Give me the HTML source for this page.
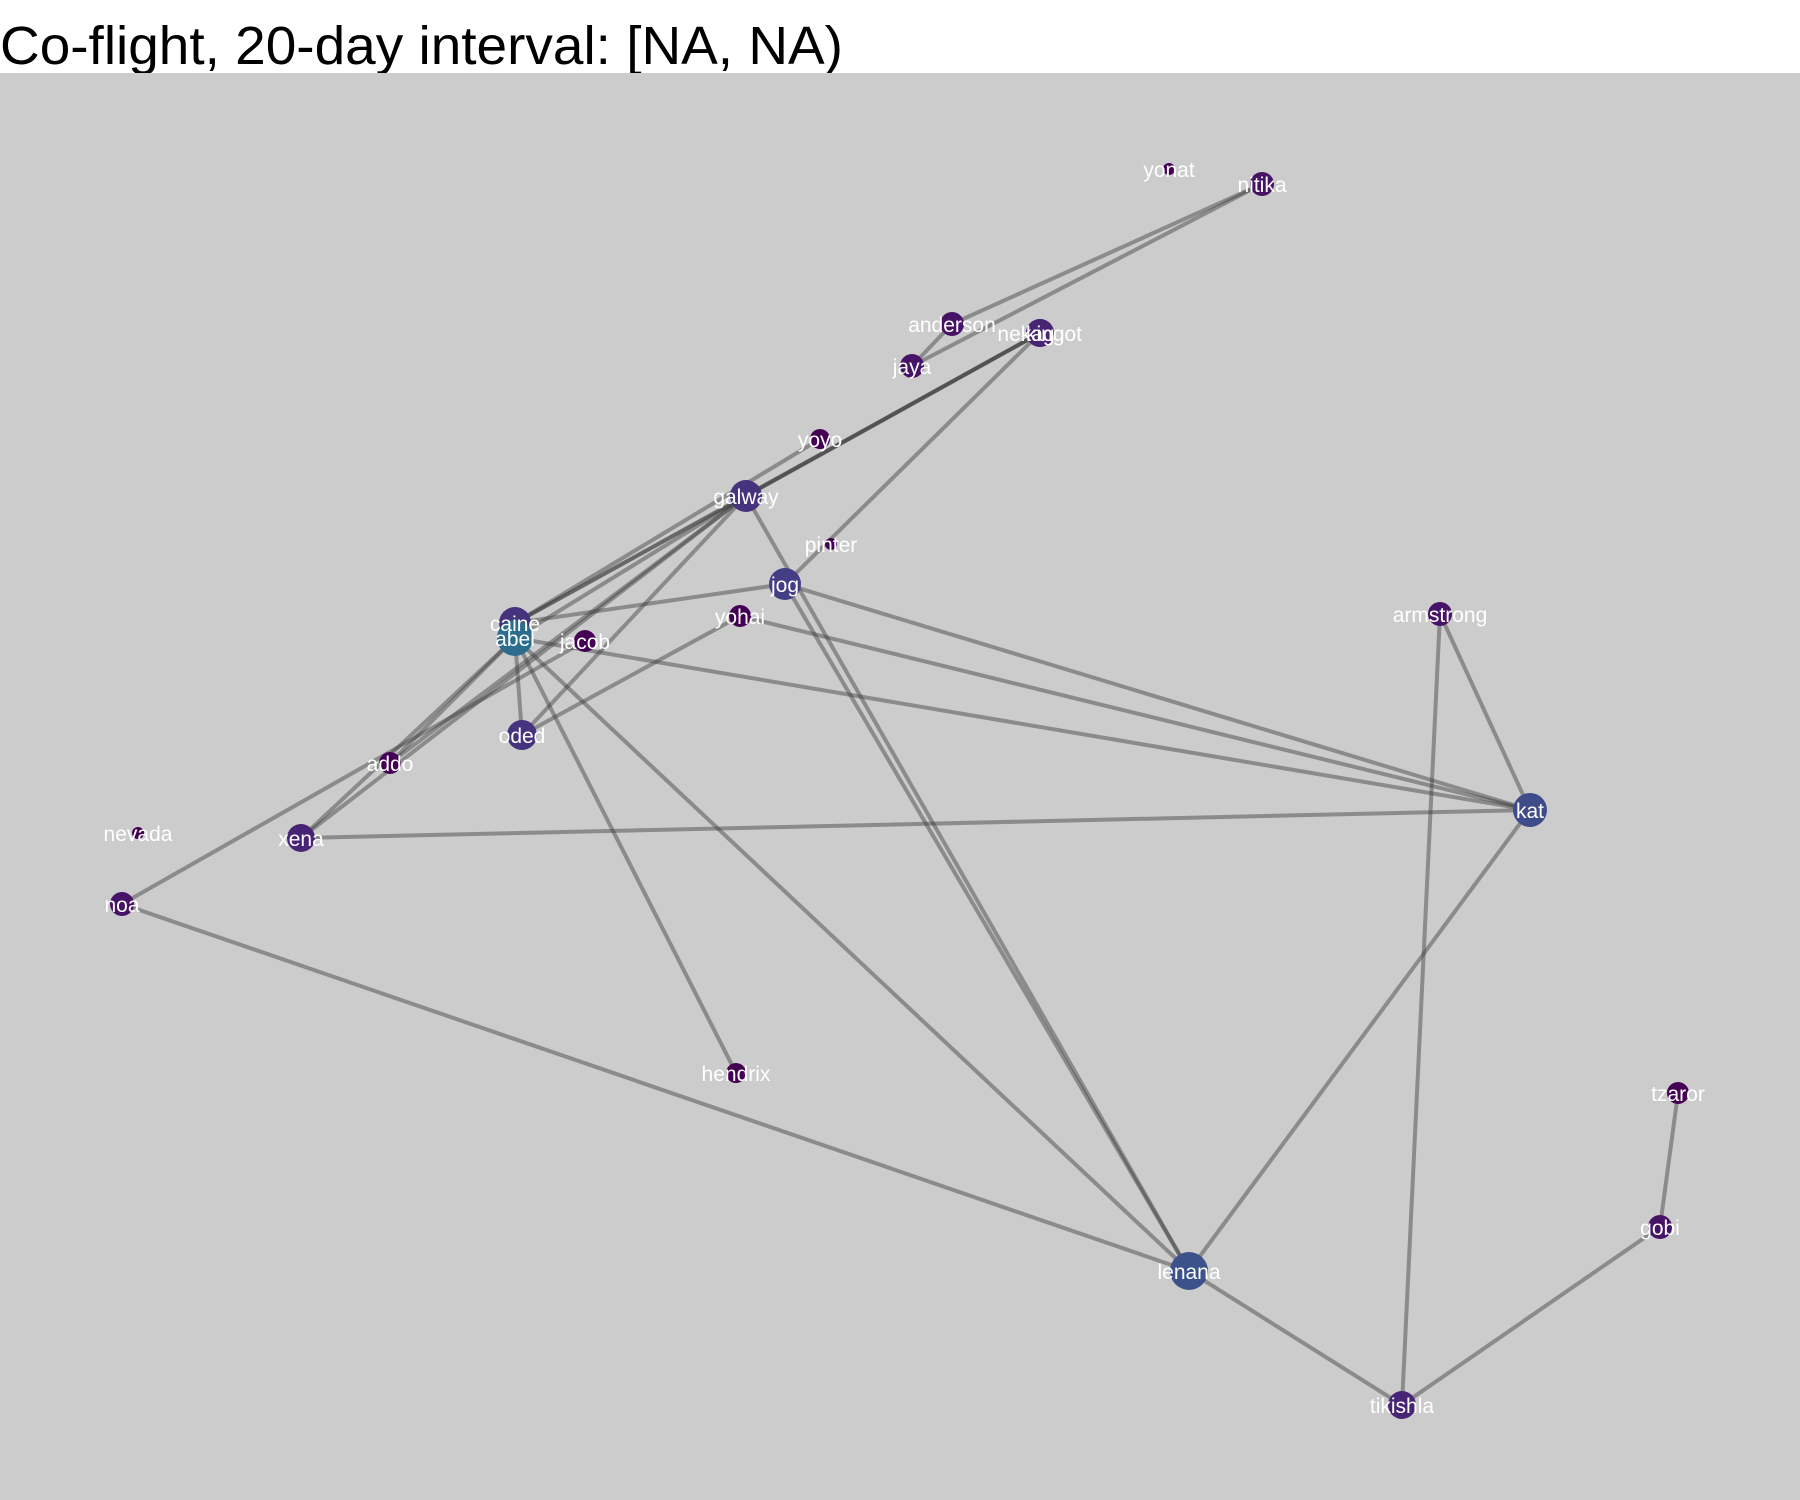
<!DOCTYPE html>
<html><head><meta charset="utf-8"><style>
html,body{margin:0;padding:0;background:#fff}
svg{display:block}
text{font-family:"Liberation Sans",Arial,sans-serif}
</style></head><body>
<svg id="chart" width="1800" height="1500">
<text x="0" y="64" font-size="54" fill="#000" textLength="843" lengthAdjust="spacingAndGlyphs">Co-flight, 20-day interval: [NA, NA)</text>
<rect x="0" y="73" width="1800" height="1427" fill="#cccccc"/>
<g id="edges"></g>
<g id="nodes"></g>
</svg>
<script>
const nodeNames = ["yonat","nitika","anderson","jaya","nekag","kingot","yoyo","galway","pinter","jog","yohai","caine","abel","jacob","oded","addo","nevada","xena","noa","armstrong","kat","hendrix","tzaror","gobi","lenana","tikishla"];
const nodeX = [1169,1262,952,912,1040,1040,820,746,831,785,740,515,515,585,522,390,138,301,122,1440,1530,736,1678,1660,1189,1402];
const nodeY = [169,184,324,366,333,333,439,496,544,584,616,623,638,641,735,763,833,838,904,614,810,1073,1093,1227,1271,1405];
const nodeSize = [6,12,12,12,14,14,10,16,6,16,11,16,18,11,15,11,6,14,12,12,17,10,11,12,19,14];
const nodeColor = ["#440154","#471366","#471366","#471366","#482475","#482475","#440154","#46337e","#440154","#433e85","#440154","#46337e","#2c6d8e","#440154","#46337e","#440154","#440154","#482475","#471366","#471366","#3e4c8a","#440154","#440154","#471366","#3b528b","#482475"];
const edgeFrom = ["nitika","nitika","anderson","nekag","kingot","nekag","kingot","yoyo","galway","galway","galway","galway","galway","galway","jog","jog","jog","yohai","yohai","abel","abel","abel","abel","abel","abel","jacob","noa","xena","kat","kat","armstrong","lenana","tikishla","gobi"];
const edgeTo = ["anderson","jaya","jaya","galway","galway","caine","jog","caine","caine","abel","addo","xena","oded","lenana","caine","kat","lenana","kat","oded","kat","lenana","hendrix","oded","addo","xena","noa","lenana","kat","armstrong","lenana","tikishla","tikishla","gobi","tzaror"];
const NS="http://www.w3.org/2000/svg";
function xs(i){return nodeX[i];}
function ys(i){return nodeY[i];}
const eg=document.getElementById('edges'), ng=document.getElementById('nodes');
for(let k=0;k<edgeFrom.length;k++){
  const a=nodeNames.indexOf(edgeFrom[k]), b=nodeNames.indexOf(edgeTo[k]);
  const l=document.createElementNS(NS,'line');
  l.setAttribute('x1',xs(a));l.setAttribute('y1',ys(a));l.setAttribute('x2',xs(b));l.setAttribute('y2',ys(b));
  l.setAttribute('stroke','rgba(60,60,60,0.45)');l.setAttribute('stroke-width','4');
  
  
  eg.appendChild(l);
}
for(let i=0;i<nodeNames.length;i++){
  const c=document.createElementNS(NS,'circle');
  c.setAttribute('cx',xs(i));c.setAttribute('cy',ys(i));c.setAttribute('r',nodeSize[i]);
  c.setAttribute('fill',nodeColor[i]);
  
  
  ng.appendChild(c);
}
for(let i=0;i<nodeNames.length;i++){
  const t=document.createElementNS(NS,'text');
  let dx=0; if(nodeNames[i]==='nekag')dx=-14; if(nodeNames[i]==='kingot')dx=14;
  t.setAttribute('x',xs(i)+dx);t.setAttribute('y',ys(i)+8);
  t.setAttribute('text-anchor','middle');t.setAttribute('font-size','21');t.setAttribute('fill','#fff');
  t.textContent=nodeNames[i];
  
  
  ng.appendChild(t);
}
</script>
</body></html>
